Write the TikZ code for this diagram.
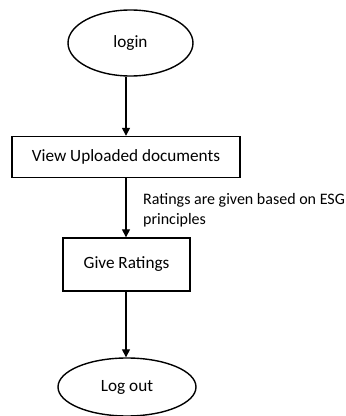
\documentclass[tikz,border=0pt]{standalone}
\usepackage{fontspec}
\setmainfont{Carlito}
\usetikzlibrary{shapes.geometric,arrows.meta}
\tikzset{
    terminal/.style={ellipse,draw,line width=1.4pt,inner sep=0pt,font=\fontsize{17.2}{20}\selectfont},
    process/.style={rectangle,draw,line width=1.4pt,inner sep=0pt,font=\fontsize{17.2}{20}\selectfont},
    flow/.style={line width=1.4pt,-{Triangle[width=8pt,length=8pt]}}
}
\begin{document}
\begin{tikzpicture}[x=1pt,y=1pt,font=\fontsize{16}{20}\selectfont]
    \useasboundingbox (0,0) rectangle (346,416);
    \node[terminal,minimum width=125pt,minimum height=66pt] (login) at (130.5,373) {login};
    \node[process,minimum width=228pt,minimum height=41pt] (view) at (126,259) {View Uploaded documents};
    \node[process,minimum width=127pt,minimum height=53pt] (give) at (126.5,151.5) {Give Ratings};
    \node[terminal,minimum width=138pt,minimum height=58pt] (logout) at (127,29) {Log out};
    \draw[flow] (view.north |- login.south) -- (view.north);
    \draw[flow] (view.south) -- (view.south |- give.north);
    \draw[flow] (view.south |- give.south) -- (view.south |- logout.north);
    \node[anchor=west,align=left,inner sep=0pt] (esg) at (143,206) {Ratings are given based on ESG\\principles};
\end{tikzpicture}
\end{document}
